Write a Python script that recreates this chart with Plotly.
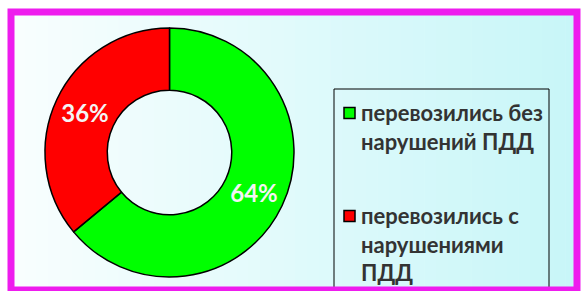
import plotly.graph_objects as go

# ---- data ----
labels = ["перевозились без<br>нарушений ПДД", "перевозились с<br>нарушениями<br>ПДД"]
values = [64, 36]
colors = ["#00ff00", "#ff0000"]

W, H = 581, 291

def px(x):
    return x / W

def py(y):
    return 1 - y / H

fig = go.Figure()

fig.add_trace(go.Pie(
    labels=labels,
    values=values,
    sort=False,
    direction="clockwise",
    rotation=0,
    hole=0.5,
    marker=dict(colors=colors, line=dict(color="#000000", width=1.5)),
    textinfo="percent",
    texttemplate="%{percent:.0%}",
    textposition="inside",
    insidetextorientation="horizontal",
    textfont=dict(family="Lato", size=24, color="#f4f4f4", weight="bold"),
    domain=dict(x=[px(45), px(294)], y=[py(277), py(28)]),
    showlegend=False,
    hoverinfo="label+percent",
))

shapes = []
# gradient background inside frame
n = 48
x0, x1 = 13, 577
c0 = (248, 254, 254)
c1 = (200, 246, 248)
for i in range(n):
    t = i / (n - 1)
    c = tuple(round(c0[k] + (c1[k] - c0[k]) * t) for k in range(3))
    xa = x0 + (x1 - x0) * i / n
    xb = x0 + (x1 - x0) * (i + 1) / n + 0.6
    shapes.append(dict(type="rect", xref="paper", yref="paper",
                       x0=px(xa), x1=px(xb), y0=py(291), y1=py(12),
                       fillcolor="rgb(%d,%d,%d)" % c, line=dict(width=0),
                       layer="below"))

# legend box
lx0, ly0 = 334, 89
shapes.append(dict(type="rect", xref="paper", yref="paper",
                   x0=px(lx0), x1=px(549), y0=py(300), y1=py(ly0),
                   line=dict(color="#000000", width=1), fillcolor="rgba(0,0,0,0)",
                   layer="above"))

annotations = []
item_y = [113, 216]
for lab, col, yc in zip(labels, colors, item_y):
    shapes.append(dict(type="rect", xref="paper", yref="paper",
                       x0=px(344), x1=px(355), y0=py(yc + 5.5), y1=py(yc - 5.5),
                       fillcolor=col, line=dict(color="#000000", width=1.5),
                       layer="above"))
    annotations.append(dict(xref="paper", yref="paper", x=px(360), y=py(yc - 15),
                            xanchor="left", yanchor="top", align="left",
                            text=lab, showarrow=False, borderpad=0,
                            font=dict(family="Lato", size=22, color="#333333", weight="bold")))

# magenta frame
shapes.append(dict(type="rect", xref="paper", yref="paper",
                   x0=px(11), x1=px(577), y0=py(290), y1=py(12),
                   line=dict(color="#ee1cee", width=7), fillcolor="rgba(0,0,0,0)",
                   layer="above"))

fig.update_layout(
    width=W, height=H,
    margin=dict(l=0, r=0, t=0, b=0),
    paper_bgcolor="#ffffff",
    plot_bgcolor="#ffffff",
    shapes=shapes,
    annotations=annotations,
    showlegend=False,
)

fig.write_html("out.html",
               config={"displayModeBar": False},
               post_script="document.body.style.margin='0';document.body.style.padding='0';document.body.style.overflow='hidden';")
